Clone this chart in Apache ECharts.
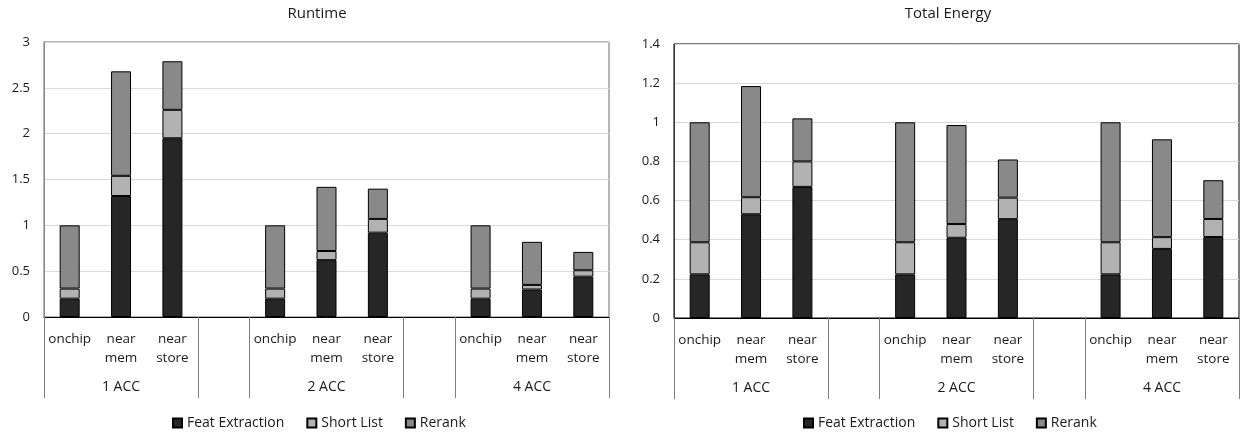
<!DOCTYPE html>
<html>
<head>
<meta charset="utf-8">
<script src="https://cdn.jsdelivr.net/npm/echarts@6/dist/echarts.min.js"></script>
<style>
  html, body { margin: 0; padding: 0; background: #fff; }
  #chart { width: 1248px; height: 434px; }
</style>
</head>
<body>
<div id="chart"></div>
<script>
  // categories (empty slots are the gaps between groups)
  var categories = ['onchip', 'near\nmem', 'near\nstore', '', 'onchip', 'near\nmem', 'near\nstore', '', 'onchip', 'near\nmem', 'near\nstore']
  var groups = ['1 ACC', '2 ACC', '4 ACC']
  var seriesNames = ['Feat Extraction', 'Short List', 'Rerank']

  // Runtime (stacked parts)
  var runtimeFeat = [0.2, 1.32, 1.95, null, 0.2, 0.62, 0.92, null, 0.2, 0.3, 0.44]
  var runtimeShort = [0.11, 0.22, 0.31, null, 0.11, 0.1, 0.15, null, 0.11, 0.05, 0.07]
  var runtimeRerank = [0.69, 1.14, 0.53, null, 0.69, 0.7, 0.33, null, 0.69, 0.47, 0.2]

  // Total Energy (stacked parts)
  var energyFeat = [0.223, 0.53, 0.67, null, 0.223, 0.41, 0.505, null, 0.223, 0.353, 0.414]
  var energyShort = [0.164, 0.087, 0.13, null, 0.164, 0.07, 0.11, null, 0.164, 0.06, 0.092]
  var energyRerank = [0.613, 0.568, 0.22, null, 0.613, 0.506, 0.195, null, 0.613, 0.5, 0.198]

  var colors = ['#262626', '#b2b2b2', '#898989']
  var font = '"Open Sans", sans-serif'
  var textColor = '#1a1a1a'

  // group label row: put the group name under the middle bar of each group
  var groupRow = []
  for (var i = 0; i < categories.length; i++) groupRow.push('')
  groupRow[1] = groups[0]
  groupRow[5] = groups[1]
  groupRow[9] = groups[2]

  function isBoundary (idx) {
    return idx === 0 || idx === 3 || idx === 4 || idx === 7 || idx === 8
  }

  function makeX (gridIndex) {
    return [
      {
        type: 'category',
        gridIndex: gridIndex,
        data: categories,
        axisLine: { lineStyle: { color: '#000', width: 1 } },
        axisTick: { show: true, length: 81, interval: isBoundary, lineStyle: { color: '#7f7f7f' } },
        axisLabel: { interval: 0, margin: 13, color: textColor, fontFamily: font, fontSize: 13.5, lineHeight: 19 }
      },
      {
        type: 'category',
        gridIndex: gridIndex,
        position: 'bottom',
        data: groupRow,
        axisLine: { show: false },
        axisTick: { show: false },
        axisLabel: { interval: 0, margin: 63, color: textColor, fontFamily: font, fontSize: 14 }
      }
    ]
  }

  function makeY (gridIndex, max, step, lineColor) {
    return {
      type: 'value',
      gridIndex: gridIndex,
      min: 0,
      max: max,
      interval: step,
      axisLine: { show: true, lineStyle: { color: lineColor } },
      axisTick: { show: false },
      splitLine: { lineStyle: { color: '#d9d9d9' } },
      axisLabel: { margin: 14, color: textColor, fontFamily: font, fontSize: 13 }
    }
  }

  function makeSeries (xIdx, yIdx, parts, stack) {
    var out = []
    for (var k = 0; k < parts.length; k++) {
      out.push({
        name: seriesNames[k],
        type: 'bar',
        stack: stack,
        xAxisIndex: xIdx,
        yAxisIndex: yIdx,
        barWidth: 20,
        itemStyle: { color: colors[k], borderColor: '#000', borderWidth: 1 },
        data: parts[k]
      })
    }
    return out
  }

  var chart = echarts.init(document.getElementById('chart'))
  var xs = makeX(0).concat(makeX(1))

  chart.setOption({
    animation: false,
    backgroundColor: '#fff',
    textStyle: { fontFamily: font },
    title: [
      { text: 'Runtime', left: 312, top: 1, textAlign: 'center', textStyle: { fontFamily: font, fontSize: 15, fontWeight: 'normal', color: textColor } },
      { text: 'Total Energy', left: 943, top: 1, textAlign: 'center', textStyle: { fontFamily: font, fontSize: 15, fontWeight: 'normal', color: textColor } }
    ],
    legend: [
      { left: 172, top: 416, padding: 0, icon: 'rect', itemWidth: 9, itemHeight: 9, itemGap: 22, data: seriesNames, textStyle: { fontFamily: font, fontSize: 14, color: textColor } },
      { left: 803, top: 416, padding: 0, icon: 'rect', itemWidth: 9, itemHeight: 9, itemGap: 22, data: seriesNames, textStyle: { fontFamily: font, fontSize: 14, color: textColor } }
    ],
    grid: [
      { left: 44, top: 42, width: 565, height: 275, show: true, borderColor: '#6f6f6f', borderWidth: 1 },
      { left: 674, top: 44, width: 565, height: 274, show: true, borderColor: '#000', borderWidth: 1 }
    ],
    xAxis: xs,
    yAxis: [makeY(0, 3, 0.5, '#868686'), makeY(1, 1.4, 0.2, '#333')],
    series: makeSeries(0, 0, [runtimeFeat, runtimeShort, runtimeRerank], 'rt')
      .concat(makeSeries(2, 1, [energyFeat, energyShort, energyRerank], 'en'))
  })
</script>
</body>
</html>
